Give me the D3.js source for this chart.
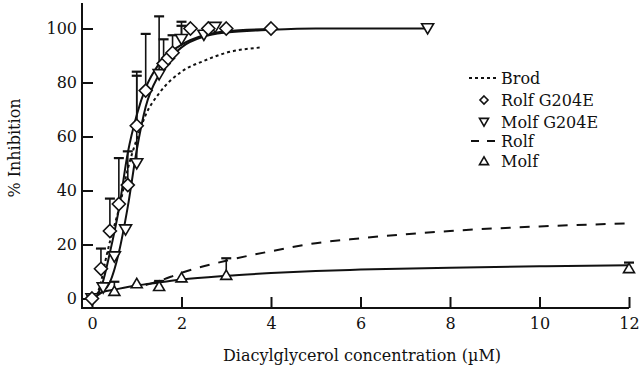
<!DOCTYPE html>
<html>
<head>
<meta charset="utf-8">
<script src="https://cdn.jsdelivr.net/npm/d3@7"></script>
<style>
  body { margin: 0; background: #fff; }
  svg { display: block; }
  .axis text { font-family: "DejaVu Serif", serif; font-size: 16px; fill: #111; }
</style>
</head>
<body>
<div id="chart"></div>
<script>
// measured points
const rolfG204E_x = [0, 0.2, 0.4, 0.6, 0.8, 1.0, 1.2, 1.6, 1.7, 1.8, 2.2, 2.6, 3.0, 4.0];
const rolfG204E_y = [0, 11, 25, 35, 42, 64, 77, 87, 89, 91, 100, 100, 100, 100];
const molfG204E_x = [0, 0.25, 0.5, 0.75, 1.0, 1.5, 2.0, 2.5, 2.75, 7.5];
const molfG204E_y = [0, 4, 15.5, 25.5, 50, 83, 96, 97.6, 100.5, 100];
const molf_x = [0.5, 1.0, 1.5, 2.0, 3.0, 12];
const molf_y = [2.8, 5.6, 4.6, 7.8, 8.7, 11.2];

// error bars: x, point value, top of bar
const err_x  = [0.2, 0.4, 0.5, 0.6, 0.8, 1.0, 1.0, 1.2, 1.5, 1.5, 1.6, 1.8, 2.0, 2.0, 3.0, 12];
const err_lo = [11, 25, 2.8, 35, 42, 64, 50, 77, 83, 4.6, 87, 91, 96, 96, 8.7, 11.2];
const err_hi = [18.5, 37, 6.2, 52, 54.5, 84, 82.5, 98, 104.5, 6.5, 96, 97.5, 102.5, 101, 14.9, 13.3];

// fitted curves
const fitRolfG_x = [0, 0.2, 0.4, 0.6, 0.8, 1.0, 1.2, 1.5, 2.0, 2.5, 3.0, 4.0];
const fitRolfG_y = [0, 4, 17, 33, 54, 68, 78, 87, 94, 97.5, 99, 99.8];
const fitMolfG_x = [0, 0.2, 0.4, 0.6, 0.8, 1.0, 1.2, 1.5, 2.0, 2.5, 3.0, 4.0, 5.0, 7.5];
const fitMolfG_y = [0, 2, 6, 17, 34, 55, 71, 83, 93, 97, 98.5, 99.5, 100, 100];
const fitBrod_x = [0.1, 0.2, 0.3, 0.4, 0.5, 0.6, 0.8, 1.0, 1.2, 1.5, 2.0, 2.5, 3.0, 3.8];
const fitBrod_y = [1, 6, 14, 21, 27, 33, 48, 59, 68, 76, 84, 88, 91, 93];
const fitRolf_x = [1.2, 1.5, 2, 3, 4, 5, 6, 7, 8, 10, 12];
const fitRolf_y = [5, 6.5, 9.5, 14, 17.5, 20.5, 22.3, 23.8, 25, 26.7, 27.8];
const fitMolf_x = [0, 0.1, 0.25, 0.5, 1, 1.5, 2, 3, 4, 5, 6, 8, 10, 12];
const fitMolf_y = [0, 1.5, 2.5, 3.3, 4.8, 5.9, 7, 8.4, 9.4, 10.2, 10.7, 11.4, 11.9, 12.3];

const xTicks = [0, 2, 4, 6, 8, 10, 12];
const yTicks = [0, 20, 40, 60, 80, 100];
const legendLabels = ["Brod", "Rolf G204E", "Molf G204E", "Rolf", "Molf"];

const width = 640, height = 371;
const axisX = 82, axisY = 308;

const x = d3.scaleLinear().domain([0, 12]).range([92, 629]);
const y = d3.scaleLinear().domain([0, 100]).range([298.5, 28.5]);

const zip = (xs, ys) => xs.map((v, i) => [v, ys[i]]);

const svg = d3.create("svg")
    .attr("width", width)
    .attr("height", height);

// frame
svg.append("path")
    .attr("d", `M${axisX},3V${axisY}H629`)
    .attr("fill", "none")
    .attr("stroke", "#111")
    .attr("stroke-width", 2);

const xAxis = svg.append("g")
    .attr("class", "axis")
    .attr("transform", `translate(0,${axisY})`)
    .call(d3.axisBottom(x).tickValues(xTicks).tickSize(-11).tickPadding(10));
xAxis.select(".domain").remove();
xAxis.selectAll("line").attr("stroke", "#111").attr("stroke-width", 2);

const yAxis = svg.append("g")
    .attr("class", "axis")
    .attr("transform", `translate(${axisX},0)`)
    .call(d3.axisLeft(y).tickValues(yTicks).tickSize(-11).tickPadding(5));
yAxis.select(".domain").remove();
yAxis.selectAll("line").attr("stroke", "#111").attr("stroke-width", 2);

// titles
svg.append("text")
    .attr("transform", "translate(20,148) rotate(-90)")
    .attr("text-anchor", "middle")
    .style("font", "16px 'DejaVu Serif', serif")
    .attr("fill", "#111")
    .text("% Inhibition");

svg.append("text")
    .attr("x", 362)
    .attr("y", 361)
    .attr("text-anchor", "middle")
    .style("font", "16px 'DejaVu Serif', serif")
    .attr("fill", "#111")
    .text("Diacylglycerol concentration (\u00b5M)");

// curves
const line = d3.line()
    .x(d => x(d[0]))
    .y(d => y(d[1]))
    .curve(d3.curveMonotoneX);

const curves = [
    { pts: zip(fitBrod_x, fitBrod_y), dash: "3,3" },
    { pts: zip(fitRolf_x, fitRolf_y), dash: "10,9" },
    { pts: zip(fitMolf_x, fitMolf_y), dash: null },
    { pts: zip(fitRolfG_x, fitRolfG_y), dash: null },
    { pts: zip(fitMolfG_x, fitMolfG_y), dash: null }
];

svg.append("g")
    .selectAll("path")
    .data(curves)
    .join("path")
    .attr("d", d => line(d.pts))
    .attr("fill", "none")
    .attr("stroke", "#111")
    .attr("stroke-width", 2)
    .attr("stroke-dasharray", d => d.dash);

// error bars
const errs = err_x.map((v, i) => ({ x: v, lo: err_lo[i], hi: err_hi[i] }));
const eg = svg.append("g").attr("stroke", "#111");
eg.selectAll("line.stem")
    .data(errs)
    .join("line")
    .attr("class", "stem")
    .attr("x1", d => x(d.x)).attr("x2", d => x(d.x))
    .attr("y1", d => y(d.lo)).attr("y2", d => y(d.hi))
    .attr("stroke-width", 1.6);
eg.selectAll("line.cap")
    .data(errs)
    .join("line")
    .attr("class", "cap")
    .attr("x1", d => x(d.x) - 5).attr("x2", d => x(d.x) + 5)
    .attr("y1", d => y(d.hi)).attr("y2", d => y(d.hi))
    .attr("stroke-width", 2.2);

// markers
const diamond = (cx, cy, r) => `M${cx},${cy - r}L${cx + r},${cy}L${cx},${cy + r}L${cx - r},${cy}Z`;
const triDown = (cx, cy, r) => `M${cx - r},${cy - r * 0.8}H${cx + r}L${cx},${cy + r * 0.9}Z`;
const triUp = (cx, cy, r) => `M${cx - r},${cy + r * 0.8}H${cx + r}L${cx},${cy - r * 0.9}Z`;

function markers(xs, ys, shape, r) {
    svg.append("g")
        .selectAll("path")
        .data(zip(xs, ys))
        .join("path")
        .attr("d", d => shape(x(d[0]), y(d[1]), r))
        .attr("fill", "#fff")
        .attr("stroke", "#111")
        .attr("stroke-width", 1.6);
}
markers(molf_x, molf_y, triUp, 5.5);
markers(molfG204E_x, molfG204E_y, triDown, 6);
markers(rolfG204E_x, rolfG204E_y, diamond, 6.5);

// legend
const legendY = [78, 100, 122, 141, 161];
const lg = svg.append("g");
lg.selectAll("text")
    .data(legendLabels)
    .join("text")
    .attr("x", 501)
    .attr("y", (d, i) => legendY[i] + 6)
    .style("font", "16px 'DejaVu Serif', serif")
    .attr("fill", "#111")
    .text(d => d);

lg.append("line")
    .attr("x1", 469).attr("x2", 499)
    .attr("y1", legendY[0]).attr("y2", legendY[0])
    .attr("stroke", "#111").attr("stroke-width", 1.8)
    .attr("stroke-dasharray", "3,3");
lg.append("line")
    .attr("x1", 471).attr("x2", 499)
    .attr("y1", legendY[3]).attr("y2", legendY[3])
    .attr("stroke", "#111").attr("stroke-width", 1.8)
    .attr("stroke-dasharray", "8,8");
lg.append("path").attr("d", diamond(484, legendY[1], 4))
    .attr("fill", "#fff").attr("stroke", "#111").attr("stroke-width", 1.6);
lg.append("path").attr("d", triDown(484, legendY[2], 4.5))
    .attr("fill", "#fff").attr("stroke", "#111").attr("stroke-width", 1.6);
lg.append("path").attr("d", triUp(484, legendY[4], 4.5))
    .attr("fill", "#fff").attr("stroke", "#111").attr("stroke-width", 1.6);

document.getElementById("chart").appendChild(svg.node());
</script>
</body>
</html>
